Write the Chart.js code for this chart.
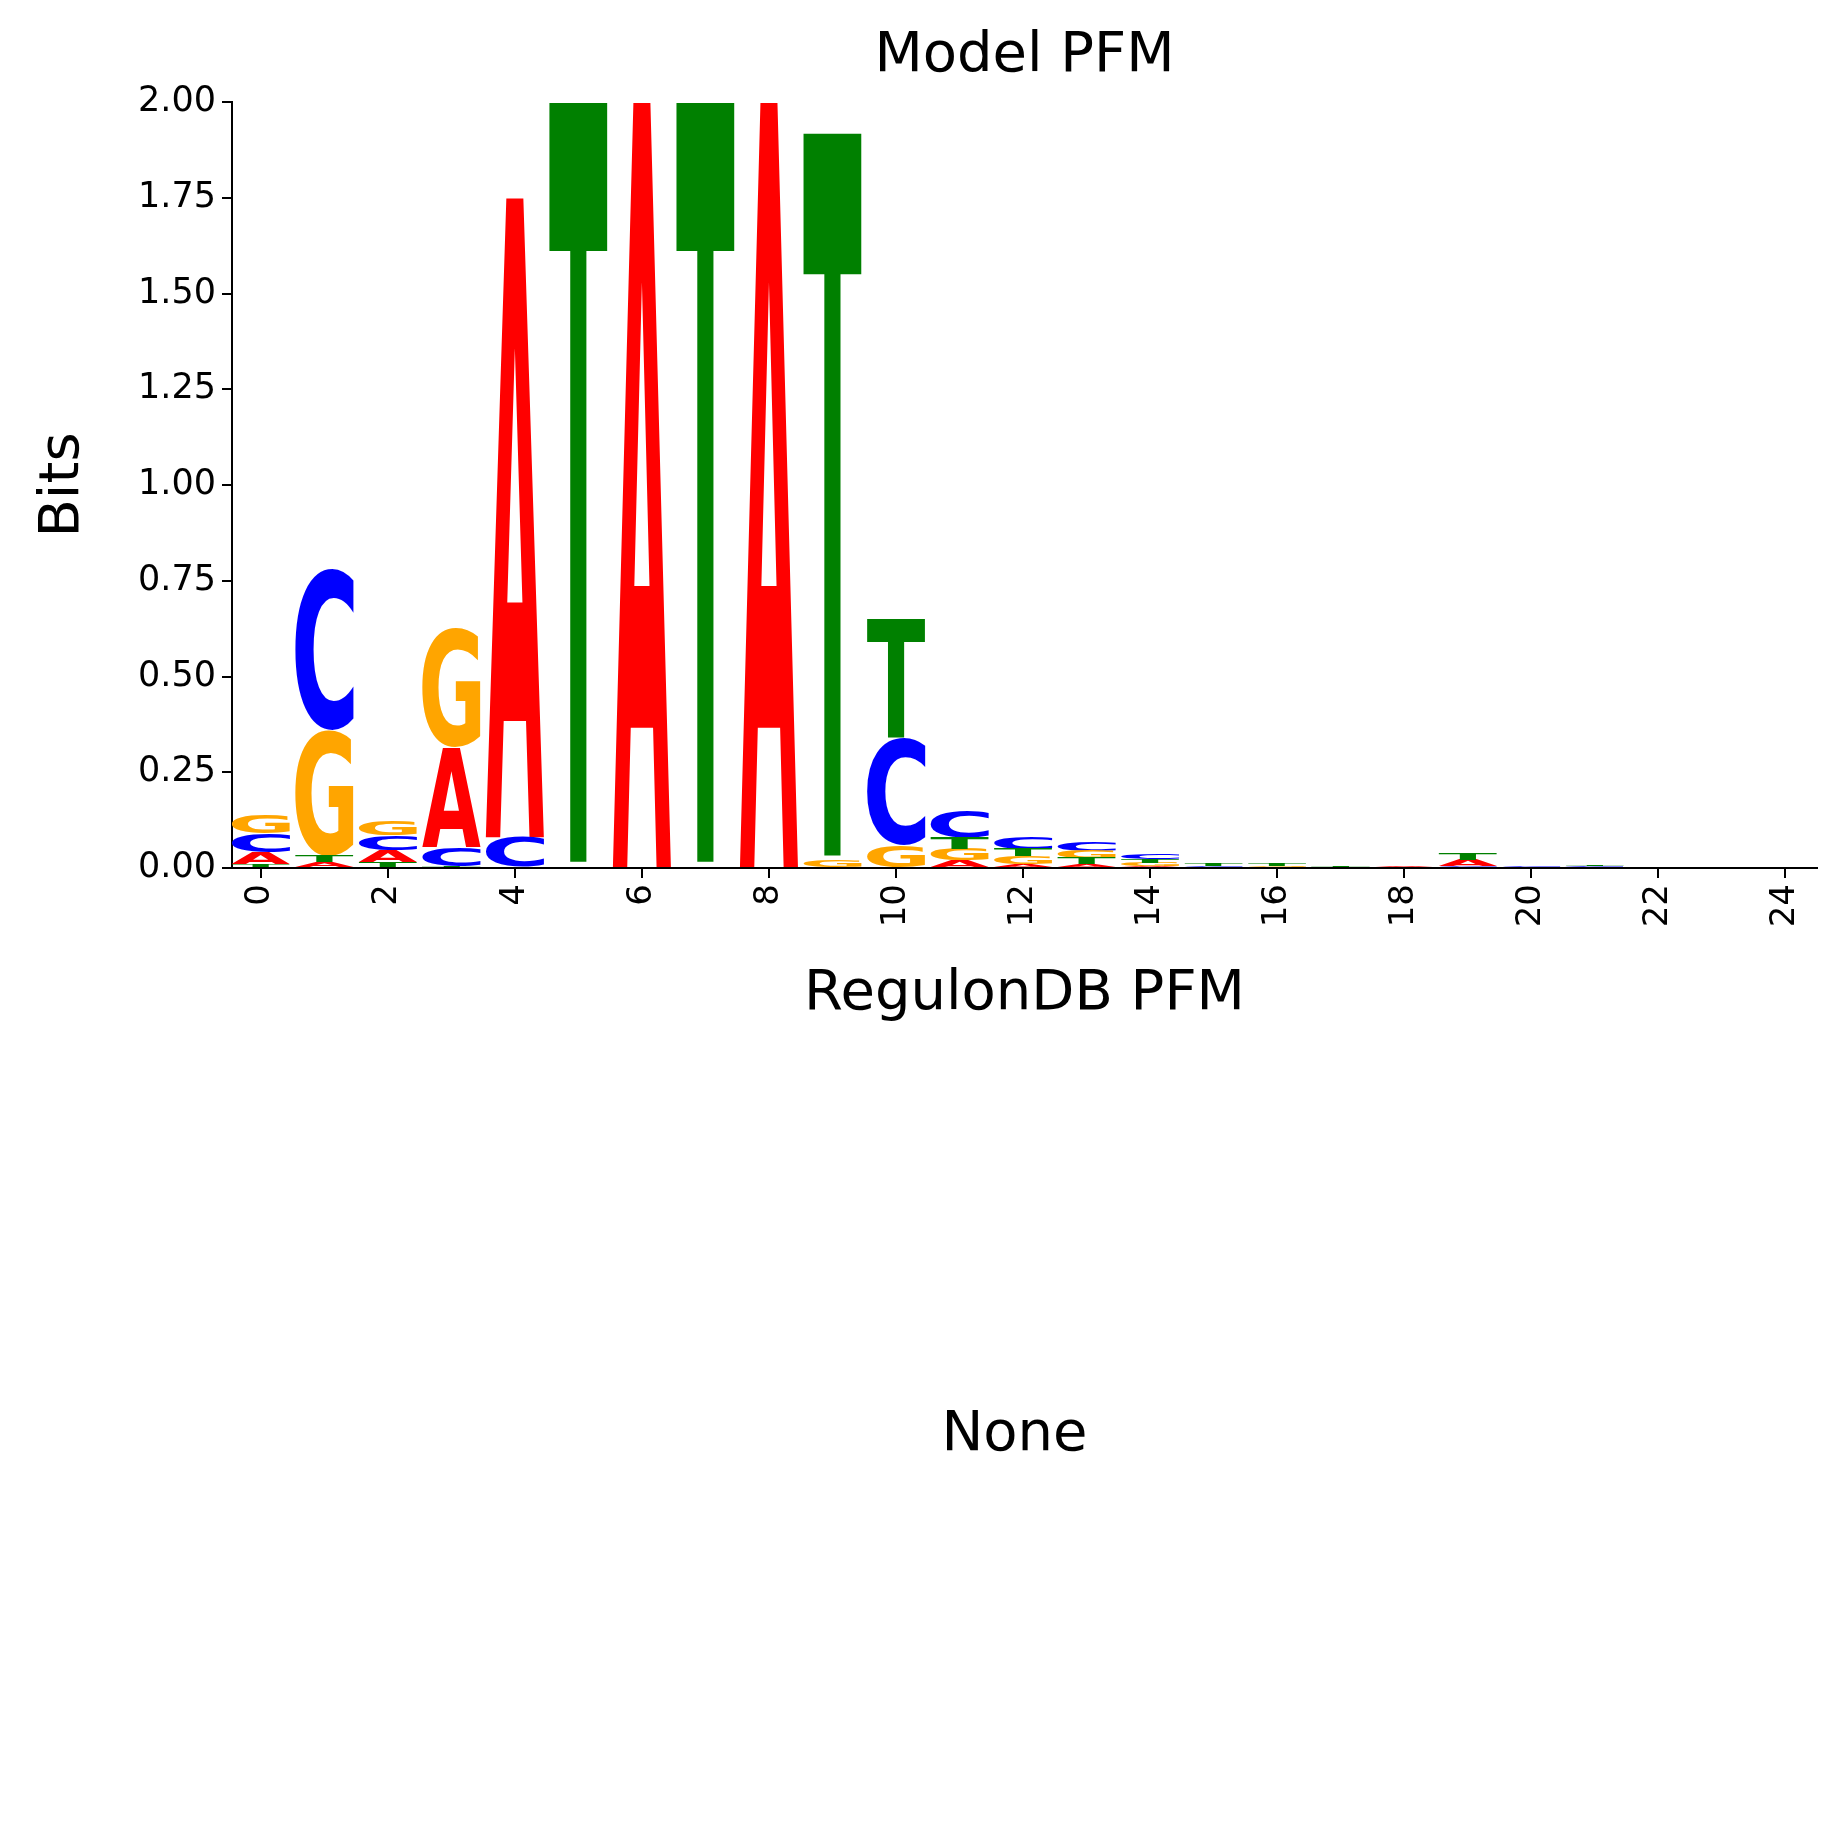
<!DOCTYPE html>
<html lang="en">
<head>
<meta charset="UTF-8">
<title>Model PFM</title>
<script src="https://cdn.jsdelivr.net/npm/chart.js"></script>
<style>
  body { margin: 0; background: #fff; }
  #wrap { position: relative; width: 1834px; height: 1834px; }
  #none { position: absolute; left: 222px; width: 1585px; top: 1398px; text-align: center;
          font: 56px "DejaVu Sans", sans-serif; color: #000; }
</style>
</head>
<body>
<div id="wrap">
  <canvas id="logo" width="1834" height="1834"></canvas>
  <div id="none">None</div>
</div>
<script>
// information content (bits) per position, per base
const positions = [0,1,2,3,4,5,6,7,8,9,10,11,12,13,14,15,16,17,18,19,20,21,22,23,24];
const bitsA = [0.03,0.015,0.03,0.26,1.67,0,2.0,0,2.0,0,0,0.02,0.01,0.01,0.004,0,0,0,0.006,0.015,0,0,0,0,0];
const bitsC = [0.05,0.42,0.04,0.05,0.08,0,0,0,0,0,0.28,0.07,0.03,0.025,0.015,0.005,0,0.003,0,0.005,0.005,0.004,0,0,0.003];
const bitsG = [0.05,0.33,0.04,0.31,0,0,0,0,0,0.02,0.06,0.03,0.02,0.02,0.01,0,0.005,0,0,0,0,0,0,0.002,0];
const bitsT = [0.01,0.015,0.015,0.005,0,2.0,0,2.0,0,1.9,0.31,0.03,0.02,0.015,0.01,0.005,0.005,0.003,0,0.015,0,0.004,0.003,0,0];
const yTicks = [0,0.25,0.5,0.75,1.0,1.25,1.5,1.75,2.0];

const bases = { A: bitsA, C: bitsC, G: bitsG, T: bitsT };
const colors = { A: 'red', C: 'blue', G: 'orange', T: 'green' };

// stack letters per position, smallest at the bottom
const ranges = { A: [], C: [], G: [], T: [] };
positions.forEach((p, i) => {
  const order = Object.keys(bases).sort((a, b) => bases[a][i] - bases[b][i]);
  let y = 0;
  order.forEach(b => {
    const h = bases[b][i];
    ranges[b].push(h > 0 ? { x: p, y: [y, y + h] } : { x: p, y: null });
    y += h;
  });
});

const letterPlugin = {
  id: 'letters',
  afterDatasetsDraw(chart) {
    const ctx = chart.ctx;
    ctx.save();
    ctx.beginPath();
    ctx.rect(chart.chartArea.left, chart.chartArea.top - 2, chart.chartArea.width, chart.chartArea.height + 2);
    ctx.clip();
    chart.data.datasets.forEach((ds, di) => {
      const meta = chart.getDatasetMeta(di);
      meta.data.forEach(bar => {
        if (bar.skip || bar.y == null || isNaN(bar.y)) return;
        const top = Math.min(bar.y, bar.base), h = Math.abs(bar.base - bar.y);
        if (h < 0.3) return;
        ctx.save();
        ctx.font = 'bold 200px "DejaVu Sans"';
        ctx.fillStyle = ds.letterColor;
        const m = ctx.measureText(ds.label);
        const gw = m.actualBoundingBoxLeft + m.actualBoundingBoxRight;
        const gh = m.actualBoundingBoxAscent + m.actualBoundingBoxDescent;
        ctx.translate(bar.x - bar.width / 2, top);
        ctx.scale(bar.width / gw, h / gh);
        ctx.textBaseline = 'alphabetic';
        ctx.fillText(ds.label, m.actualBoundingBoxLeft, m.actualBoundingBoxAscent);
        ctx.restore();
      });
    });
    ctx.restore();
    // title
    ctx.save();
    ctx.font = '56px "DejaVu Sans"';
    ctx.fillStyle = '#000';
    ctx.textAlign = 'center';
    ctx.textBaseline = 'middle';
    ctx.fillText('Model PFM', (chart.chartArea.left + chart.chartArea.right) / 2, 56);
    ctx.restore();
  }
};

new Chart(document.getElementById('logo').getContext('2d'), {
  type: 'bar',
  data: {
    datasets: Object.keys(bases).map(b => ({
      label: b,
      data: ranges[b],
      backgroundColor: 'rgba(0,0,0,0)',
      letterColor: colors[b],
      barPercentage: 0.92,
      categoryPercentage: 1.0,
      grouped: false
    }))
  },
  options: {
    responsive: false,
    animation: false,
    devicePixelRatio: 1,
    layout: { padding: { left: 0, right: 17, top: 102, bottom: 806 } },
    plugins: { legend: { display: false }, tooltip: { enabled: false }, title: { display: false } },
    scales: {
      x: {
        type: 'linear', min: -0.45, max: 24.5, offset: false,
        afterBuildTicks: s => { s.ticks = positions.filter(p => p % 2 === 0).map(v => ({ value: v })); },
        afterFit: s => { s.height = 160; },
        ticks: { minRotation: 90, maxRotation: 90, color: '#000', font: { size: 34, family: 'DejaVu Sans' }, padding: 6 },
        grid: { offset: false, drawOnChartArea: false, drawTicks: true, tickLength: 10, color: '#000', lineWidth: 2 },
        border: { color: '#000', width: 2 },
        title: { display: true, text: 'RegulonDB PFM', color: '#000', font: { size: 56, family: 'DejaVu Sans' }, padding: { top: 6, bottom: 0 } }
      },
      y: {
        min: 0, max: 2,
        afterBuildTicks: s => { s.ticks = yTicks.map(v => ({ value: v })); },
        afterFit: s => { s.width = 232; },
        ticks: { color: '#000', font: { size: 35, family: 'DejaVu Sans' }, callback: v => v.toFixed(2), padding: 6 },
        grid: { drawOnChartArea: false, drawTicks: true, tickLength: 10, color: '#000', lineWidth: 2 },
        border: { color: '#000', width: 2 },
        title: { display: true, text: 'Bits', color: '#000', font: { size: 56, family: 'DejaVu Sans' }, padding: { top: 30, bottom: 10 } }
      }
    }
  },
  plugins: [letterPlugin]
});
</script>
</body>
</html>
